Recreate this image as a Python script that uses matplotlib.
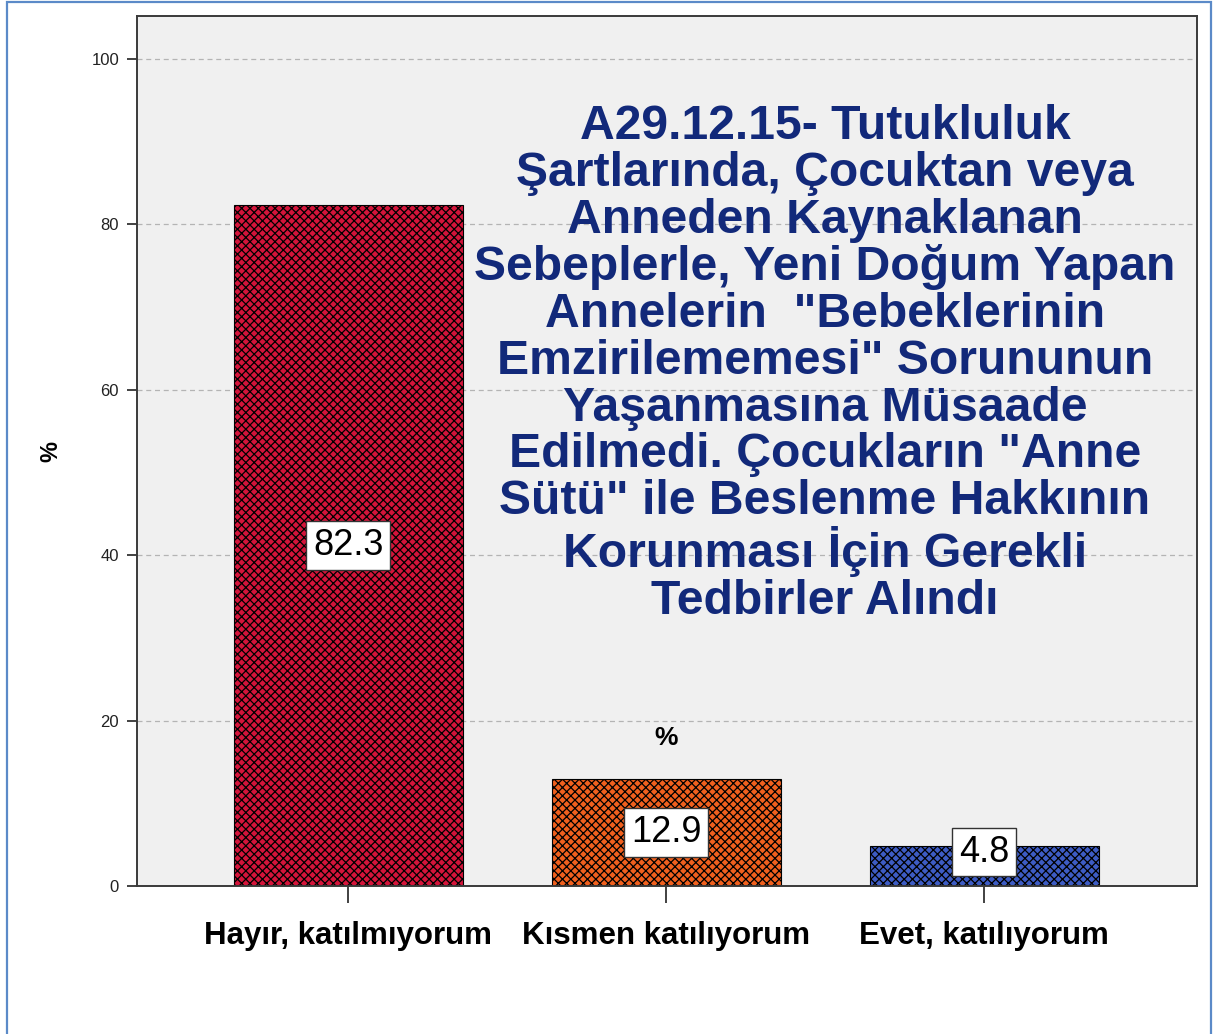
import matplotlib.pyplot as plt
from matplotlib.patches import Rectangle

# Survey answers and their percentages
categories = ["Hayır, katılmıyorum", "Kısmen katılıyorum", "Evet, katılıyorum"]
percents = [82.3, 12.9, 4.8]
bar_colors = ["#d4143a", "#f0601e", "#3d5cc4"]
yticks = [0, 20, 40, 60, 80, 100]

title_lines = [
    "A29.12.15- Tutukluluk",
    "Şartlarında, Çocuktan veya",
    "Anneden Kaynaklanan",
    "Sebeplerle, Yeni Doğum Yapan",
    "Annelerin  \"Bebeklerinin",
    "Emzirilememesi\" Sorununun",
    "Yaşanmasına Müsaade",
    "Edilmedi. Çocukların \"Anne",
    "Sütü\" ile Beslenme Hakkının",
    "Korunması İçin Gerekli",
    "Tedbirler Alındı",
]

plt.rcParams['font.family'] = ['Liberation Sans', 'DejaVu Sans']
plt.rcParams['hatch.linewidth'] = 0.9

fig = plt.figure(figsize=(12.14, 10.34), dpi=100)
ax = fig.add_axes([0.1129, 0.1431, 0.8732, 0.8414])
ax.set_facecolor("#f0f0f0")

# thin blue frame round the whole figure
fig.patches.append(Rectangle((7 / 1214, -0.02), 1204 / 1214, 1.0 - 2 / 1034 + 0.02,
                             transform=fig.transFigure, fill=False,
                             edgecolor="#5b8ac8", linewidth=1.6))

x = list(range(len(categories)))
ax.bar(x, percents, width=0.72, color=bar_colors, edgecolor="black",
       linewidth=0.8, hatch="xxxx", zorder=2)

# value boxes half way up each bar, kept clear of the axis
for xi, v in zip(x, percents):
    ax.text(xi, max(v / 2, 4.1), f"{v:.1f}", ha="center", va="center",
            fontsize=26, color="black", zorder=4,
            bbox=dict(facecolor="white", edgecolor="#333333", linewidth=1.0, pad=5))

ax.text(1, 17.9, "%", ha="center", va="center", fontsize=19, fontweight="bold")

ax.text(0.649, 0.6, "\n".join(title_lines), transform=ax.transAxes,
        ha="center", va="center", fontsize=34.7, fontweight="bold",
        color="#12297a", linespacing=1.05, zorder=3)

ax.set_xlim(-0.665, 2.67)
ax.set_ylim(0, 105.2)
ax.set_yticks(yticks)
ax.set_xticks(x, labels=categories)
ax.grid(axis="y", linestyle=(0, (4, 3)), color="#b4b4b4", linewidth=0.9, zorder=0)
ax.set_axisbelow(True)

ax.tick_params(axis="y", length=7, width=1.3, color="#333333", labelsize=12,
               labelcolor="#222222", pad=6)
ax.tick_params(axis="x", length=12, width=1.3, color="#333333", labelsize=22.5,
               pad=13)
for lab in ax.get_xticklabels():
    lab.set_fontweight("bold")
for s in ax.spines.values():
    s.set_color("#3a3a3a")
    s.set_linewidth(1.4)

ax.set_ylabel("%", fontsize=17, fontweight="bold", labelpad=21)

fig.savefig("out.png", dpi=100)
